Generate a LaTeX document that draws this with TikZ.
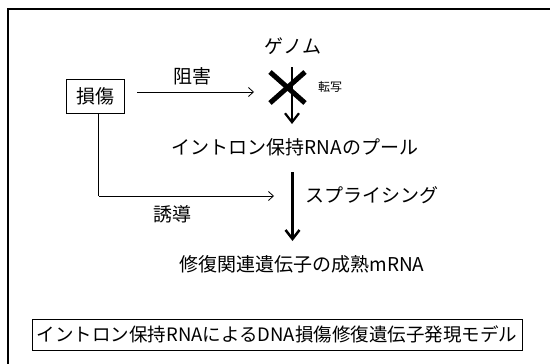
\documentclass[tikz,border=0pt]{standalone}
\usepackage{fontspec}
\setmainfont{Noto Sans CJK JP}
\usetikzlibrary{arrows.meta}
\tikzset{
  txt/.style={inner sep=0pt, font=\fontsize{19pt}{21pt}\selectfont},
  smalltxt/.style={inner sep=0pt, font=\fontsize{12pt}{13pt}\selectfont},
  framebox/.style={draw, line width=0.9pt, inner sep=0pt, font=\fontsize{19pt}{21pt}\selectfont},
  thinarrow/.style={line width=0.8pt, -{Straight Barb[length=5pt,width=9pt,line width=0.8pt]}},
  boldarrow/.style={line width=3pt, -{Straight Barb[length=9pt,width=14pt,line width=2.5pt]}},
  crossline/.style={line width=5pt},
  thinline/.style={line width=0.8pt}
}
\begin{document}
\begin{tikzpicture}[x=1pt,y=-1pt]
\useasboundingbox (0,0) rectangle (550,364);
\fill[white] (0,0) rectangle (550,364);
% outer frame
\draw[line width=2.5pt] (8,364) -- (8,9) -- (550,9);

% nodes
\node[framebox, minimum width=58pt, minimum height=34pt] (damage) at (95,96) {損傷};
\node[txt] (genome) at (293,46) {ゲノム};
\node[txt] (inhibit) at (192,76) {阻害};
\node[smalltxt] (transcr) at (330,87) {転写};
\node[txt] (pool) at (295,147) {イントロン保持RNAのプール};
\node[txt] (splice) at (372,195) {スプライシング};
\node[txt] (induce) at (172,214) {誘導};
\node[txt] (mature) at (302,264) {修復関連遺伝子の成熟mRNA};
\node[framebox, minimum width=490pt, minimum height=31pt, font=\fontsize{18.5pt}{20pt}\selectfont] (model) at (277,334.5) {イントロン保持RNAによるDNA損傷修復遺伝子発現モデル};

% cross (transcription blocked)
\coordinate (c1) at (270,72);
\coordinate (c2) at (305,103);
\coordinate (c3) at (305,72);
\coordinate (c4) at (270,103);
\draw[crossline] (c1) -- (c2);
\draw[crossline] (c3) -- (c4);

% transcription arrow
\coordinate (tS) at (292,67);
\coordinate (tE) at (292,124);
\draw[line width=2.5pt, -{Straight Barb[length=9pt,width=14pt,line width=2.2pt]}] (tS) -- (tE);

% inhibition arrow
\coordinate (iS) at (137,92);
\coordinate (iE) at (254,92);
\draw[thinarrow] (iS) -- (iE);

% induction connector
\coordinate (dS) at (98.5,113);
\coordinate (dC) at (98.5,196);
\coordinate (dE) at (274,196);
\draw[thinline] (dS) -- (dC);
\draw[thinarrow] (dC) -- (dE);

% splicing arrow
\coordinate (sS) at (292.5,172);
\coordinate (sE) at (292.5,241);
\draw[boldarrow] (sS) -- (sE);
\end{tikzpicture}
\end{document}
